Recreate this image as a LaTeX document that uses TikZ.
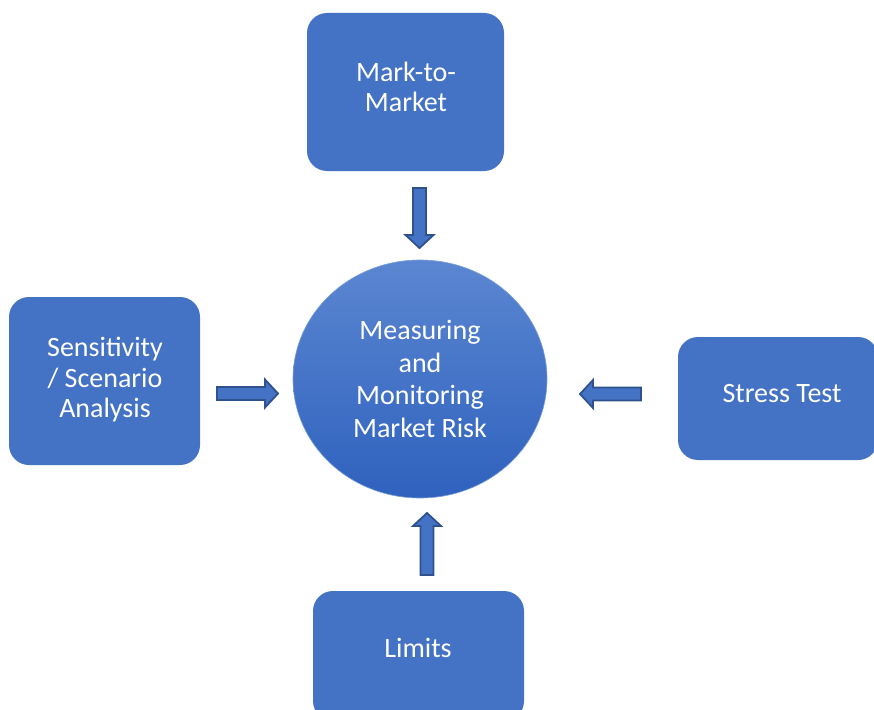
\documentclass[tikz,border=0pt]{standalone}
\usepackage{fontspec}
\setmainfont{Carlito}
\usetikzlibrary{shapes.geometric}
\definecolor{boxblue}{HTML}{4472C4}
\definecolor{arrowedge}{HTML}{2F528F}
\definecolor{circtop}{HTML}{5B86D1}
\definecolor{circbot}{HTML}{2F62BE}
\tikzset{
  box/.style={rectangle, rounded corners=20pt, fill=boxblue, draw=none,
    inner sep=0pt},
  boxtext/.style={text=white, align=center, inner sep=0pt,
    font=\fontsize{28}{30.5}\selectfont},
  hub/.style={ellipse, minimum width=254pt, minimum height=238pt,
    top color=circtop, bottom color=circbot, draw=circtop!80!white, line width=0.6pt,
    text=white, align=center, inner sep=0pt,
    font=\fontsize{28}{32.5}\selectfont},
  barrow/.pic={
    \draw[fill=boxblue, draw=arrowedge, line width=1.8pt, line join=miter]
      (0,-6.5) -- (#1-13,-6.5) -- (#1-13,-14) -- (#1,0) -- (#1-13,14)
      -- (#1-13,6.5) -- (0,6.5) -- cycle;
  },
}
\begin{document}
\begin{tikzpicture}[x=1pt,y=-1pt]
\useasboundingbox (0,0) rectangle (874,709);
\clip (0,0) rectangle (874,709);
\fill[white] (0,0) rectangle (874,709);

\node[box, minimum width=197pt, minimum height=158pt] (mtm) at (405.5,92) {};
\node[boxtext] (mtmtxt) at (406,87) {Mark-to-\\Market};
\node[box, minimum width=191pt, minimum height=168pt] (sens) at (104.5,381) {};
\node[boxtext] (senstxt) at (105,380) {Sensitivity\\/ Scenario\\Analysis};
\node[box, minimum width=200pt, minimum height=123pt] (stress) at (778,398.5) {};
\node[boxtext] (stresstxt) at (782,394) {Stress Test};
\node[box, minimum width=211pt, minimum height=130pt] (lim) at (418.5,656) {};
\node[boxtext] (limtxt) at (418,648) {Limits};

\node[hub] (risk) at (420,379) {Measuring\\and\\Monitoring\\Market Risk};

\pic[rotate=-90] at (419.5,188) {barrow={60}};
\pic[rotate=0] at (217,393.5) {barrow={61}};
\pic[rotate=180] at (641,394) {barrow={61}};
\pic[rotate=90] at (427,575) {barrow={62}};
\end{tikzpicture}
\end{document}
